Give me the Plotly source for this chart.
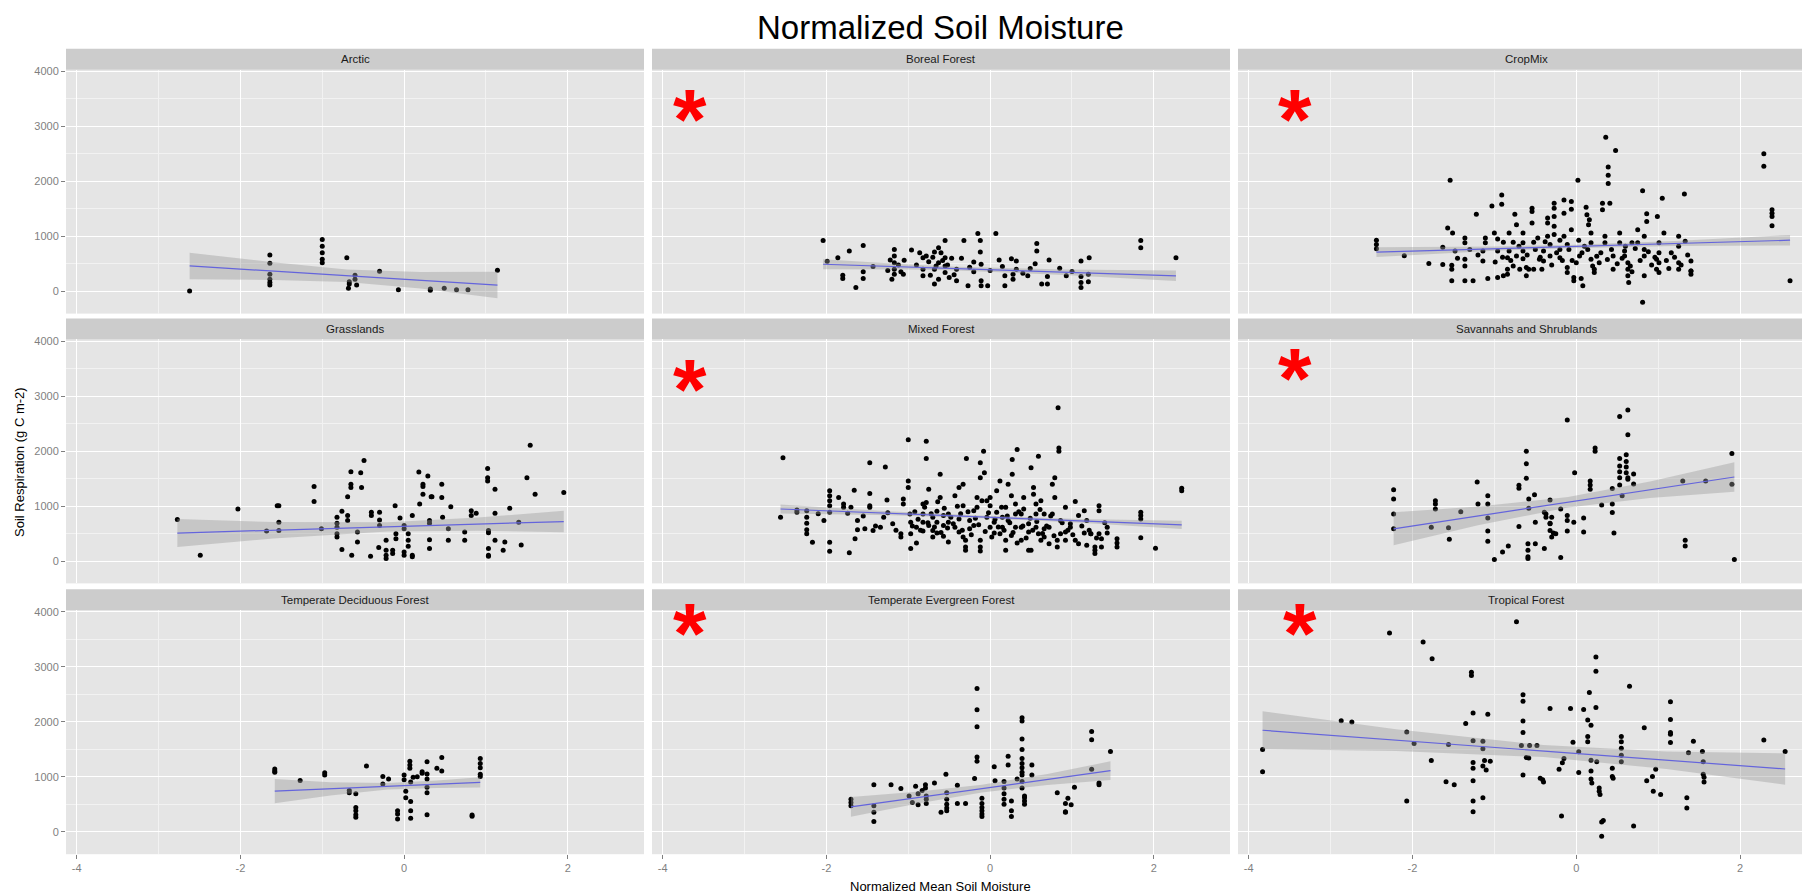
import plotly.graph_objects as go

# ---------------- data ----------------
panel_titles = ["Arctic", "Boreal Forest", "CropMix",
                "Grasslands", "Mixed Forest", "Savannahs and Shrublands",
                "Temperate Deciduous Forest", "Temperate Evergreen Forest", "Tropical Forest"]

x_tick_vals = [-4, -2, 0, 2]
x_tick_labels = ["-4", "-2", "0", "2"]
y_tick_vals = [0, 1000, 2000, 3000, 4000]
y_tick_labels = ["0", "1000", "2000", "3000", "4000"]

arctic_x = [-2.62, -1.64, -1.64, -1.64, -1.64, -1.64, -1.64, -1.0, -1.0, -1.0, -1.0, -1.0, -0.70,
            -0.68, -0.67, -0.67, -0.60, -0.60, -0.58, -0.30, -0.07, 0.32, 0.32, 0.49, 0.64, 0.78, 1.14]
arctic_y = [5, 660, 510, 312, 222, 162, 114, 942, 822, 702, 582, 522, 612,
            54, 132, 174, 294, 222, 114, 366, 30, 42, 18, 54, 30, 30, 384]

boreal_x = [-2.04, -1.99, -1.86, -1.80, -1.80, -1.72, -1.64, -1.55, -1.55, -1.55, -1.43, -1.22, -1.20,
            -1.17, -1.17, -1.17, -1.17, -1.17, -1.09, -1.06, -1.05, -0.96, -0.82, -0.82, -0.82, -0.78,
            -0.73, -0.68, -0.68, -0.68, -0.63, -0.63, -0.63, -0.55, -0.55, -0.55, -0.55, -0.50,
            -0.41, -0.41, -0.32, -0.27, -0.20, -0.20, -0.15, -0.12, -0.12, -0.11, -0.11, -0.11, -0.03,
            0.07, 0.11, 0.18, 0.18, 0.26, 0.28, 0.28, 0.32, 0.32, 0.46, 0.49, 0.57, 0.57, 0.63,
            0.70, 0.70, 0.72, 0.93, 1.11, 1.11, 1.11, 1.11, 1.20, 1.20, 1.21, 1.84, 1.84, 2.27,
            -0.90, -0.86, -0.75, -0.70, -0.66, -0.60, -0.58, -0.52, -0.47, -0.44, -1.12, -1.25, -0.35,
            -0.25, 0.0, 0.15, 0.40, 0.55, 0.85, 1.0]
boreal_y = [924, 546, 612, 294, 234, 732, 72, 834, 354, 234, 450, 570, 222,
            762, 642, 522, 402, 312, 354, 312, 564, 750, 612, 402, 282, 642,
            294, 714, 402, 132, 792, 522, 222, 924, 612, 462, 342, 252,
            402, 192, 924, 102, 534, 354, 1050, 924, 714, 492, 192, 102, 102,
            1050, 570, 282, 102, 594, 312, 222, 552, 402, 282, 414, 870, 732, 132,
            270, 132, 570, 282, 552, 270, 162, 72, 312, 174, 612, 924, 792, 612,
            480, 700, 540, 620, 460, 700, 560, 480, 600, 300, 480, 380, 600,
            440, 380, 450, 330, 500, 420, 360]

crop_x = [-2.44, -2.44, -2.44, -2.10, -1.80, -1.63, -1.63, -1.57, -1.54, -1.51, -1.52, -1.52, -1.52, -1.48,
          -1.36, -1.36, -1.36, -1.36, -1.36, -1.26, -1.22, -1.14, -1.14, -1.11, -1.11, -1.08, -1.03, -1.00, -0.99,
          -0.96, -0.96, -0.96, -0.91, -0.91, -0.89, -0.89, -0.84, -0.84, -0.84, -0.82, -0.82, -0.77, -0.77, -0.75,
          -0.73, -0.73, -0.69, -0.65, -0.65, -0.65, -0.65, -0.61, -0.61, -0.58, -0.54, -0.54, -0.54, -0.52, -0.52,
          -0.47, -0.45, -0.42, -0.40, -0.40, -0.35, -0.35, -0.35, -0.32, -0.32, -0.27, -0.27, -0.27, -0.27, -0.27,
          -0.20, -0.20, -0.20, -0.15, -0.15, -0.15, -0.11, -0.11, -0.11, -0.06, -0.06, -0.06, -0.03, -0.03, 0.02,
          0.03, 0.04, 0.06, 0.08, 0.12, 0.13, 0.15, 0.16, 0.18, 0.18, 0.18, 0.22, 0.22, 0.28, 0.32, 0.32, 0.35, 0.35,
          0.36, 0.39, 0.39, 0.39, 0.41, 0.45, 0.45, 0.48, 0.53, 0.53, 0.59, 0.59, 0.63, 0.63, 0.63, 0.64, 0.68, 0.68,
          0.75, 0.75, 0.81, 0.81, 0.83, 0.83, 0.83, 0.83, 0.86, 0.86, 0.98, 0.98, 0.99, 1.01, 1.01, 1.01, 1.01, 1.05, 1.07,
          1.13, 1.25, 1.25, 1.25, 1.25, 1.32, 1.33, 1.40, 1.40, 1.40, 1.40, 2.29, 2.29, 2.39, 2.39, 2.39, 2.39, 2.61,
          -0.90, -0.80, -0.70, -0.60, -0.50, -0.44, -0.38, -0.30, -0.24, -0.17, -0.09, 0.00, 0.07, 0.10, 0.20,
          0.25, 0.30, 0.38, 0.43, 0.50, 0.56, 0.66, 0.72, 0.78, 0.88, 0.92, 0.96, 1.10, 1.16, 1.20,
          1.28, 1.36, -1.20, -1.30, -1.45, -0.05, 0.14, 0.60]
crop_y = [930, 852, 774, 648, 504, 486, 804, 1152, 2022, 1062, 192, 402, 474, 732,
          972, 882, 582, 462, 192, 192, 1404, 552, 732, 972, 882, 234, 1554, 1062, 534,
          252, 732, 954, 1752, 1584, 282, 894, 612, 402, 312, 1062, 732, 462, 894, 1404,
          1212, 642, 402, 1062, 882, 732, 594, 432, 282, 402, 1512, 1452, 1242, 894, 402,
          972, 582, 402, 732, 552, 1332, 1242, 1002, 852, 642, 1602, 1512, 1362, 1182, 1032,
          930, 762, 612, 1662, 1422, 1002, 852, 432, 342, 1632, 1494, 1122, 252, 192, 2022,
          930, 642, 234, 102, 1530, 1392, 1212, 1302, 1062, 882, 582, 402, 342, 522, 1602, 1482, 1002, 882,
          2802, 2262, 2112, 1962, 1602, 642, 402, 2562, 1062, 882, 732, 642, 522, 402, 282, 162, 882, 354,
          1122, 882, 1830, -198, 1002, 762, 642, 282, 1410, 1272, 582, 402, 1362, 882, 702, 522, 342, 1692, 1062,
          414, 1002, 822, 522, 402, 1770, 912, 372, 552, 372, 312, 2502, 2274, 1482, 1422, 1362, 1194, 192,
          620, 560, 820, 660, 760, 620, 900, 480, 700, 560, 760, 520, 700, 820, 460,
          640, 700, 580, 760, 500, 600, 460, 780, 560, 720, 480, 620, 560, 700, 620,
          480, 660, 660, 760, 600, 560, 760, 820]

grass_x = [-2.77, -2.49, -2.03, -1.68, -1.55, -1.53, -1.53, -1.53, -1.10, -1.10, -1.01,
           -0.82, -0.82, -0.82, -0.82, -0.82, -0.76, -0.76, -0.69, -0.69, -0.69, -0.65, -0.65, -0.65, -0.64,
           -0.57, -0.57, -0.53, -0.52, -0.49, -0.41, -0.40, -0.40, -0.30, -0.30, -0.30, -0.31,
           -0.22, -0.22, -0.22, -0.22, -0.14, -0.14, -0.11, -0.10, -0.10, -0.05, 0.0, 0.0, 0.0, 0.0,
           0.05, 0.05, 0.05, 0.1, 0.1, 0.1, 0.18, 0.19, 0.23, 0.23, 0.23, 0.29, 0.31, 0.31, 0.31, 0.31, 0.33, 0.34,
           0.46, 0.46, 0.47, 0.54, 0.54, 0.57, 0.74, 0.74, 0.82, 0.82, 0.88,
           1.02, 1.02, 1.02, 1.03, 1.03, 1.03, 1.03, 1.03, 1.11, 1.11, 1.11, 1.21, 1.23, 1.29, 1.40, 1.43, 1.50,
           1.54, 1.60, 1.95]
grass_y = [756, 108, 948, 546, 1008, 1008, 708, 558, 1356, 1086, 588,
           798, 690, 618, 498, 438, 906, 210, 1170, 828, 738, 1626, 1398, 1338, 108,
           528, 348, 1608, 1338, 1830, 90, 888, 828, 750, 648, 888, 246,
           378, 108, 198, 48, 138, 198, 1008, 408, 498, 786, 588, 648, 168, 108,
           270, 498, 378, 828, 108, 78, 1620, 1038, 1398, 1356, 1218, 1548, 390, 228, 738, 690, 1170, 1170,
           1398, 1158, 798, 588, 378, 990, 528, 378, 918, 828, 870,
           1686, 1518, 1458, 558, 516, 228, 90, 108, 1308, 378, 870, 198, 348, 960, 708, 294, 1518,
           2106, 1218, 1248]

mixed_x = [-2.53, -2.56, -2.36, -2.36, -2.24, -2.24, -2.24, -2.24, -2.24, -2.17, -2.03,
           -1.96, -1.96, -1.96, -1.96, -1.96, -1.96, -1.96, -1.85, -1.79, -1.79, -1.74, -1.72, -1.66, -1.65, -1.62, -1.62,
           -1.53, -1.47, -1.47, -1.47, -1.47, -1.43, -1.34, -1.30, -1.28, -1.26, -1.19, -1.09, -1.09, -1.06, -1.06,
           -1.0, -1.0, -1.0, -0.98, -0.97, -0.97, -0.97, -0.90, -0.90, -0.82, -0.82, -0.82, -0.82, -0.78, -0.78, -0.78,
           -0.75, -0.75, -0.70, -0.70, -0.70, -0.65, -0.65, -0.65, -0.61, -0.61, -0.57, -0.57, -0.57, -0.51, -0.51, -0.51,
           -0.43, -0.43, -0.38, -0.38, -0.38, -0.33, -0.33, -0.33, -0.30, -0.30, -0.30, -0.29, -0.25, -0.25, -0.20, -0.20,
           -0.16, -0.16, -0.12, -0.12, -0.12, -0.12, -0.12, -0.08, -0.07, -0.04, -0.04, 0.0, 0.0, 0.0, 0.05, 0.05, 0.08, 0.08,
           0.12, 0.12, 0.15, 0.15, 0.19, 0.19, 0.19, 0.22, 0.22, 0.26, 0.26, 0.27, 0.27, 0.31, 0.31, 0.31, 0.33, 0.33,
           0.38, 0.38, 0.38, 0.41, 0.41, 0.47, 0.47, 0.47, 0.50, 0.50, 0.53, 0.53, 0.56, 0.56, 0.56, 0.59, 0.59, 0.62, 0.62,
           0.66, 0.66, 0.66, 0.72, 0.72, 0.76, 0.76, 0.79, 0.79, 0.82, 0.82, 0.84, 0.84, 0.86, 0.86, 0.83, 0.92, 0.92, 0.92,
           0.98, 0.98, 1.04, 1.04, 1.08, 1.08, 1.15, 1.15, 1.18, 1.18, 1.23, 1.23, 1.28, 1.28, 1.28, 1.33, 1.33, 1.33,
           1.36, 1.36, 1.43, 1.43, 1.55, 1.55, 1.55, 1.84, 1.84, 1.84, 1.84, 2.02, 2.34, 2.34,
           -0.95, -0.92, -0.88, -0.85, -0.80, -0.76, -0.72, -0.68, -0.64, -0.60, -0.56, -0.52, -0.48, -0.45, -0.40,
           -0.36, -0.34, -0.27, -0.23, -0.18, -0.14, -0.10, -0.06, -0.02, 0.02, 0.06, 0.10, 0.14, 0.17, 0.21,
           0.24, 0.28, 0.35, 0.40, 0.44, 0.49, 0.52, 0.57, 0.61, 0.64, 0.69, 0.74, 0.78, 0.88, 0.95,
           1.01, 1.12, 1.21, 1.30, 1.40, -1.40, -1.55, -1.70, -2.10, -1.15, -1.25]
mixed_y = [1878, 798, 930, 888, 918, 798, 690, 570, 498, 342, 738,
           1278, 1188, 1098, 1008, 888, 342, 180, 1158, 1038, 978, 870, 150, 1290, 408, 738, 570,
           588, 1788, 1230, 1008, 978, 558, 618, 798, 1710, 1110, 678, 498, 438, 1128, 1038,
           1458, 1338, 2208, 858, 708, 498, 228, 618, 330, 1038, 858, 708, 546, 1068, 2178, 1866,
           1308, 648, 798, 558, 438, 906, 708, 510, 1578, 1158, 828, 648, 450, 858, 708, 348,
           1188, 618, 1338, 768, 528, 1398, 1008, 438, 378, 258, 198, 1866, 738, 588, 918, 648,
           1158, 978, 1518, 1788, 378, 258, 186, 1998, 1608, 1098, 798, 618, 1158, 1008, 708, 510, 1278, 888,
           1458, 498, 798, 618, 378, 198, 978, 1398, 738, 1188, 468, 1848, 1578, 1038, 858, 618, 330, 2028,
           858, 618, 378, 1158, 948, 678, 528, 198, 198, 1698, 1338, 1218, 1038, 858, 618, 1908, 498, 1098, 378,
           858, 588, 438, 318, 618, 1398, 858, 1518, 1158, 378, 258, 1998, 2058, 498, 738, 2790, 978, 528, 378,
           678, 618, 1086, 378, 828, 318, 918, 510, 738, 288, 498, 498, 198, 138, 258, 1008, 918, 498,
           408, 258, 618, 510, 408, 330, 258, 888, 828, 768, 426, 234, 1326, 1278,
           640, 900, 760, 560, 980, 700, 860, 620, 1080, 520, 960, 600, 800, 680, 1000,
           860, 560, 900, 480, 780, 660, 1100, 540, 880, 440, 760, 620, 980, 560, 820,
           700, 520, 900, 640, 420, 780, 560, 720, 940, 500, 640, 820, 460, 700, 560,
           480, 640, 560, 420, 700, 640, 820, 980, 860, 560, 880]

sav_x = [-2.23, -2.23, -2.23, -2.23, -1.77, -1.72, -1.72, -1.72, -1.56, -1.55, -1.41, -1.21, -1.20,
         -1.08, -1.08, -1.08, -1.08, -1.08, -1.00, -0.90, -0.83, -0.70, -0.70, -0.70, -0.61, -0.61, -0.61,
         -0.59, -0.59, -0.59, -0.59, -0.58, -0.58, -0.51, -0.50, -0.50, -0.39, -0.39, -0.37, -0.37,
         -0.32, -0.32, -0.32, -0.32, -0.30, -0.30, -0.28, -0.25, -0.19, -0.19, -0.11, -0.11, -0.11, -0.11,
         -0.03, -0.02, 0.09, 0.09, 0.17, 0.17, 0.17, 0.23, 0.23, 0.31, 0.44, 0.44, 0.44, 0.46,
         0.53, 0.53, 0.53, 0.53, 0.53, 0.53, 0.56, 0.61, 0.61, 0.61, 0.61, 0.63, 0.63, 0.63, 0.63, 0.70, 0.70,
         1.33, 1.33, 1.30, 1.58, 1.90, 1.90, 1.93]
sav_y = [1296, 1128, 858, 588, 618, 1098, 1038, 948, 606, 396, 900, 1440, 1038,
         1188, 1038, 786, 546, 360, 30, 168, 276, 1380, 1326, 630, 1998, 1770, 1506,
         318, 198, 78, 48, 1128, 960, 1206, 708, 318, 888, 228, 798, 858,
         1110, 678, 558, 690, 798, 438, 510, 498, 948, 66, 2568, 828, 738, 546,
         708, 1608, 786, 528, 1458, 1386, 1308, 2058, 1998, 1020, 1320, 1038, 882, 510,
         2628, 1866, 1728, 1626, 1518, 1386, 1188, 1932, 1812, 1710, 1608, 2748, 2298, 1518, 1488, 1584, 1404,
         378, 276, 1458, 1458, 1956, 1398, 30]

tdf_x = [-1.58, -1.58, -1.58, -1.27, -0.97, -0.97, -0.67, -0.67, -0.59, -0.59, -0.59, -0.59, -0.59, -0.46,
         -0.26, -0.26, -0.19, -0.08, -0.08, -0.08, 0.0, 0.0, 0.02, 0.02, 0.07, 0.07, 0.07, 0.08, 0.08, 0.08, 0.08,
         0.11, 0.16, 0.22, 0.22, 0.28, 0.28, 0.28, 0.28, 0.28, 0.28, 0.40, 0.46, 0.46, 0.83, 0.83,
         0.93, 0.93, 0.93, 0.93, 0.93]
tdf_y = [1144, 1108, 1084, 936, 1078, 1036, 752, 711, 693, 444, 385, 314, 267, 1197,
         1007, 871, 960, 385, 326, 237, 948, 1037, 741, 622, 1286, 1215, 1156, 907, 551, 385, 249,
         996, 1002, 1067, 1096, 1055, 960, 812, 711, 314, 1274, 1156, 1351, 1108, 308, 284,
         1333, 1244, 1167, 1049, 1007]

tef_x = [-1.70, -1.70, -1.70, -1.42, -1.42, -1.42, -1.42, -1.21, -1.09, -0.99, -0.95, -0.91, -0.88, -0.88, -0.83,
         -0.79, -0.79, -0.78, -0.78, -0.78, -0.68, -0.60, -0.54, -0.53, -0.53, -0.53, -0.53, -0.53, -0.40, -0.40, -0.30,
         -0.19, -0.16, -0.16, -0.16, -0.16, -0.16, -0.1, -0.1, -0.1, -0.1, -0.1, -0.1, 0.05, 0.06,
         0.17, 0.17, 0.17, 0.17, 0.17, 0.22, 0.22, 0.26, 0.26, 0.26, 0.33, 0.39, 0.39,
         0.39, 0.39, 0.39, 0.39, 0.39, 0.39, 0.39, 0.39, 0.39, 0.42, 0.42, 0.42, 0.42, 0.51, 0.51,
         0.82, 0.92, 0.92, 0.92, 0.95, 0.99, 1.03, 1.24, 1.24, 1.24, 1.33, 1.33, 1.47]
tef_y = [593, 533, 474, 859, 474, 356, 190, 859, 788, 652, 533, 830, 693, 492, 753,
         859, 800, 652, 593, 515, 889, 356, 1049, 711, 593, 504, 433, 385, 847, 515, 515,
         972, 2607, 2222, 1914, 1363, 1286, 610, 516, 444, 385, 326, 279, 1185, 930,
         918, 800, 693, 593, 504, 1375, 1215, 563, 385, 279, 960, 2074, 2015,
         1689, 1499, 1333, 1244, 1167, 1084, 1037, 918, 800, 652, 622, 563, 504, 1215, 1037,
         711, 515, 367, 356, 610, 492, 812, 1825, 1677, 1138, 889, 859, 1464]

trop_x = [-3.83, -3.83, -2.87, -2.74, -2.28, -2.07, -2.07, -1.98, -1.87, -1.77, -1.76, -1.59, -1.56, -1.49, -1.35,
          -1.28, -1.28, -1.26, -1.26, -1.26, -1.26, -1.26, -1.26, -1.26, -1.14, -1.14, -1.14, -1.14, -1.12, -1.10,
          -1.08, -1.05,
          -0.73, -0.67, -0.65, -0.65, -0.65, -0.65, -0.65, -0.61, -0.58, -0.57, -0.48, -0.44, -0.41, -0.40, -0.32,
          -0.21, -0.18,
          -0.17, -0.15, -0.07, -0.04, 0.03, 0.03, 0.09, 0.14, 0.14, 0.14, 0.16, 0.18, 0.18, 0.18, 0.18, 0.19,
          0.24, 0.24, 0.24, 0.25, 0.28, 0.28, 0.29, 0.31, 0.33, 0.31, 0.44, 0.44, 0.45, 0.55, 0.55, 0.55, 0.55, 0.55,
          0.65, 0.70, 0.83, 0.86, 0.93, 0.94, 0.97, 1.03, 1.15, 1.15, 1.15, 1.15, 1.15, 1.35, 1.35, 1.37, 1.43,
          1.54, 1.55, 1.55, 1.56, 1.56, 2.29, 2.55]
trop_y = [1499, 1096, 2021, 1997, 3615, 1819, 563, 1606, 3455, 1298, 3147, 913, 1588, 859, 1973,
          2904, 2844, 2163, 1659, 1262, 1156, 931, 563, 367, 1647, 1511, 1197, 622, 1298, 1126,
          2139, 1286,
          3822, 1570, 2495, 2376, 2015, 1807, 1037, 1351, 1345, 1570, 1570, 978, 948, 907, 2246,
          1138, 290,
          1256, 1333, 2246, 1630, 1458, 1079, 2228, 2033, 1736, 1641, 2536, 1938, 1304, 1108, 960, 889,
          3182, 2921, 2264, 1274, 800, 741, 681, 178, 207, -77, 1156, 1007, 978, 1736, 1641, 1523, 1393, 1274,
          2649, 107, 1896, 931, 1007, 741, 1138, 681, 2365, 2045, 1807, 1778, 1624, 622, 433, 1440, 1647,
          1464, 1274, 1049, 996, 907, 1671, 1464]

# linear-fit line and its confidence band, read at five x positions per panel
fit_x = [[-2.62, -1.6, -0.7, 0.2, 1.14],
         [-2.04, -1.0, -0.4, 0.9, 2.27],
         [-2.44, -1.0, -0.1, 1.2, 2.61],
         [-2.77, -1.6, -0.2, 0.9, 1.95],
         [-2.56, -1.2, -0.1, 1.1, 2.34],
         [-2.23, -1.2, -0.1, 0.9, 1.93],
         [-1.58, -0.9, -0.2, 0.4, 0.93],
         [-1.70, -0.9, -0.1, 0.7, 1.47],
         [-3.83, -2.2, -0.4, 1.1, 2.55]]
fit_lo = [[222, 208, 169, 51, -126],
          [402, 396, 377, 299, 187],
          [624, 736, 784, 825, 835],
          [255, 412, 539, 553, 525],
          [868, 833, 778, 698, 585],
          [288, 651, 975, 1146, 1260],
          [521, 664, 769, 797, 806],
          [276, 512, 718, 854, 944],
          [1504, 1469, 1360, 1144, 859]]
fit_hi = [[702, 528, 399, 351, 354],
          [582, 486, 447, 399, 377],
          [804, 816, 844, 915, 1025],
          [765, 712, 709, 793, 915],
          [1028, 903, 828, 768, 735],
          [888, 991, 1165, 1446, 1800],
          [961, 904, 889, 937, 996],
          [636, 732, 858, 1054, 1284],
          [2194, 1869, 1580, 1464, 1429]]

# significance markers (panel index, x, y)
star_panel = [1, 2, 4, 5, 7, 8]
star_x = [-3.67, -3.43, -3.67, -3.43, -3.67, -3.37]
star_y = [3290, 3290, 3290, 3500, 3780, 3780]

points_x = [arctic_x, boreal_x, crop_x, grass_x, mixed_x, sav_x, tdf_x, tef_x, trop_x]
points_y = [arctic_y, boreal_y, crop_y, grass_y, mixed_y, sav_y, tdf_y, tef_y, trop_y]

# ---------------- layout geometry ----------------
W, H = 1802, 895
col_px = [(66, 644), (652, 1230), (1238, 1802)]
row_px = [(66, 311), (337, 582), (609, 854)]
strip_px = [(45, 66), (316, 337), (588, 609)]
x_ranges = [[-4.13, 2.93], [-4.13, 2.93], [-4.13, 2.756]]
y_range = [-405, 4030]

FONT = "Liberation Sans, Arial, sans-serif"
AXIS_GREY = "#7F7F7F"

fig = go.Figure()
layout_axes = {}
shapes = []
annotations = []

for i in range(9):
    r, c = divmod(i, 3)
    sfx = "" if i == 0 else str(i + 1)
    xa, ya = "x" + sfx, "y" + sfx
    x0p, x1p = col_px[c]
    y0p, y1p = row_px[r]
    layout_axes["xaxis" + sfx] = dict(
        domain=[x0p / W, x1p / W], range=x_ranges[c], anchor=ya,
        tickvals=x_tick_vals, ticktext=x_tick_labels,
        showticklabels=(r == 2), ticks="outside" if r == 2 else "",
        ticklen=4, tickwidth=1, tickcolor=AXIS_GREY,
        tickfont=dict(family=FONT, size=11, color=AXIS_GREY),
        showgrid=True, gridcolor="white", gridwidth=1.4, zeroline=False, showline=False,
        minor=dict(tickvals=[-3, -1, 1], showgrid=True, gridcolor="#F2F2F2", gridwidth=0.8, ticks=""),
        fixedrange=True,
    )
    layout_axes["yaxis" + sfx] = dict(
        domain=[1 - y1p / H, 1 - y0p / H], range=y_range, anchor=xa,
        tickvals=y_tick_vals, ticktext=y_tick_labels,
        showticklabels=(c == 0), ticks="outside" if c == 0 else "",
        ticklen=4, tickwidth=1, tickcolor=AXIS_GREY,
        tickfont=dict(family=FONT, size=11, color=AXIS_GREY),
        showgrid=True, gridcolor="white", gridwidth=1.4, zeroline=False, showline=False,
        minor=dict(tickvals=[500, 1500, 2500, 3500], showgrid=True, gridcolor="#F2F2F2", gridwidth=0.8, ticks=""),
        fixedrange=True,
    )

    # points
    fig.add_trace(go.Scatter(x=points_x[i], y=points_y[i], mode="markers", xaxis=xa, yaxis=ya,
                             marker=dict(color="black", size=5, line=dict(width=0)),
                             hoverinfo="skip", showlegend=False))
    # confidence band
    fx, lo, hi = fit_x[i], fit_lo[i], fit_hi[i]
    fig.add_trace(go.Scatter(x=fx + fx[::-1], y=hi + lo[::-1], mode="lines", fill="toself",
                             fillcolor="rgba(153,153,153,0.4)", line=dict(width=0),
                             xaxis=xa, yaxis=ya, hoverinfo="skip", showlegend=False))
    # fitted line
    mid = [(a + b) / 2 for a, b in zip(lo, hi)]
    fig.add_trace(go.Scatter(x=[fx[0], fx[-1]], y=[mid[0], mid[-1]], mode="lines",
                             line=dict(color="#6464DC", width=1.2),
                             xaxis=xa, yaxis=ya, hoverinfo="skip", showlegend=False))

    # facet strip
    s0, s1 = strip_px[r]
    shapes.append(dict(type="rect", xref="paper", yref="paper",
                       x0=x0p / W, x1=x1p / W, y0=1 - s1 / H, y1=1 - s0 / H,
                       fillcolor="#CCCCCC", line=dict(width=0), layer="below"))
    cx = (x0p + x1p) / 2 if c < 2 else (1238 + 1815) / 2
    annotations.append(dict(text=panel_titles[i], xref="paper", yref="paper",
                            x=cx / W, y=1 - (s0 + s1) / 2 / H, xanchor="center", yanchor="middle",
                            showarrow=False, font=dict(family=FONT, size=11.5, color="#1A1A1A")))

for p, sx, sy in zip(star_panel, star_x, star_y):
    sfx = "" if p == 0 else str(p + 1)
    annotations.append(dict(text="*", xref="x" + sfx, yref="y" + sfx, x=sx, y=sy,
                            xanchor="center", yanchor="middle", yshift=-9, showarrow=False,
                            font=dict(family=FONT, size=86, color="#FF0000", weight="bold")))

annotations.append(dict(text="Normalized Soil Moisture", xref="paper", yref="paper",
                        x=940 / W, y=1 - 24 / H, xanchor="center", yanchor="middle", showarrow=False,
                        font=dict(family=FONT, size=33, color="black")))
annotations.append(dict(text="Normalized Mean Soil Moisture", xref="paper", yref="paper",
                        x=940 / W, y=1 - 886 / H, xanchor="center", yanchor="middle", showarrow=False,
                        font=dict(family=FONT, size=13, color="black")))
annotations.append(dict(text="Soil Respiration (g C m-2)", xref="paper", yref="paper",
                        x=20 / W, y=1 - 460 / H, xanchor="center", yanchor="middle", showarrow=False,
                        textangle=-90, font=dict(family=FONT, size=13, color="black")))

fig.update_layout(width=W, height=H, margin=dict(l=0, r=0, t=0, b=0),
                  paper_bgcolor="white", plot_bgcolor="#E5E5E5", showlegend=False,
                  shapes=shapes, annotations=annotations, **layout_axes)

fig.write_html("out.html", config={"displayModeBar": False})
